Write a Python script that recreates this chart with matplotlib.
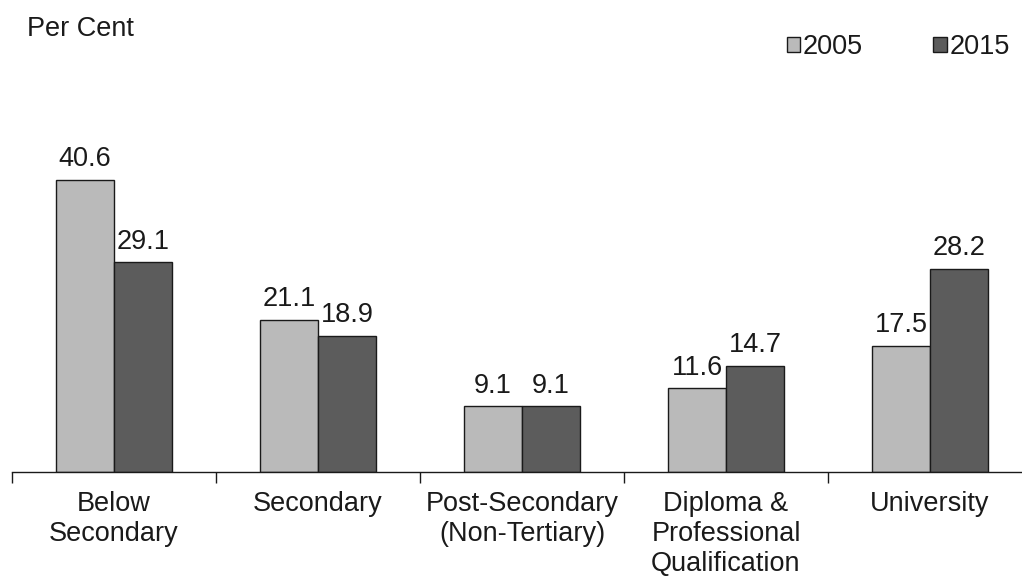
#!/usr/bin/env python3
# education attainment of population, 2005 vs 2015
import numpy as np
import matplotlib
matplotlib.use("Agg")
import matplotlib.pyplot as plt

plt.rcParams['font.family'] = ['Liberation Sans', 'DejaVu Sans']

categories = ['Below\nSecondary', 'Secondary', 'Post-Secondary\n(Non-Tertiary)',
              'Diploma &\nProfessional\nQualification', 'University']
years = ['2005', '2015']
vals_2005 = [40.6, 21.1, 9.1, 11.6, 17.5]
vals_2015 = [29.1, 18.9, 9.1, 14.7, 28.2]

light = '#bababa'
dark = '#5c5c5c'
edge = '#1a1a1a'
txt = '#1a1a1a'
fs = 19.5

W, H = 1022, 581
fig = plt.figure(figsize=(W/100, H/100), dpi=100)
# axes placed in pixel terms: baseline at y=472, left at x=12, category width 204 px
ax = fig.add_axes([12/W, (H-472)/H, 1020/W, 372/H])

x = np.arange(len(categories))
bw = 58/204
b1 = ax.bar(x - bw/2, vals_2005, bw, color=light, edgecolor=edge, linewidth=1.0, label=years[0])
b2 = ax.bar(x + bw/2, vals_2015, bw, color=dark, edgecolor=edge, linewidth=1.0, label=years[1])

for bars, vals in ((b1, vals_2005), (b2, vals_2015)):
    for r, v in zip(bars, vals):
        ax.annotate('%.1f' % v, (r.get_x() + r.get_width()/2, v), xytext=(0, 10),
                    textcoords='offset points', ha='center', va='baseline',
                    fontsize=fs, color=txt)

ax.set_xlim(-0.5, 4.5)
ax.set_ylim(0, 372/7.2)
for s in ('left', 'right', 'top'):
    ax.spines[s].set_visible(False)
ax.spines['bottom'].set_color(edge)
ax.spines['bottom'].set_linewidth(1.0)
ax.set_yticks([])
ax.set_xticks(np.arange(-0.5, 5, 1.0))
ax.set_xticklabels([])
ax.tick_params(axis='x', which='major', length=8, width=1.0, color=edge, direction='out')
ax.set_xticks(x, minor=True)
ax.set_xticklabels(categories, minor=True, fontsize=fs, color=txt, linespacing=1.2)
ax.tick_params(axis='x', which='minor', length=0, pad=14)

fig.text(27/W, 1 - 36/H, 'Per Cent', fontsize=fs, color=txt, va='baseline', ha='left')

leg = fig.legend(handles=[b1, b2], labels=years, loc='upper right',
                 bbox_to_anchor=(1010/W, 1 - 34/H), ncol=2, frameon=False,
                 fontsize=fs, handlelength=0.5, handleheight=0.5,
                 handletextpad=0.1, columnspacing=2.6, borderpad=0, borderaxespad=0)
for t in leg.get_texts():
    t.set_color(txt)

fig.savefig('out.png', dpi=100)
